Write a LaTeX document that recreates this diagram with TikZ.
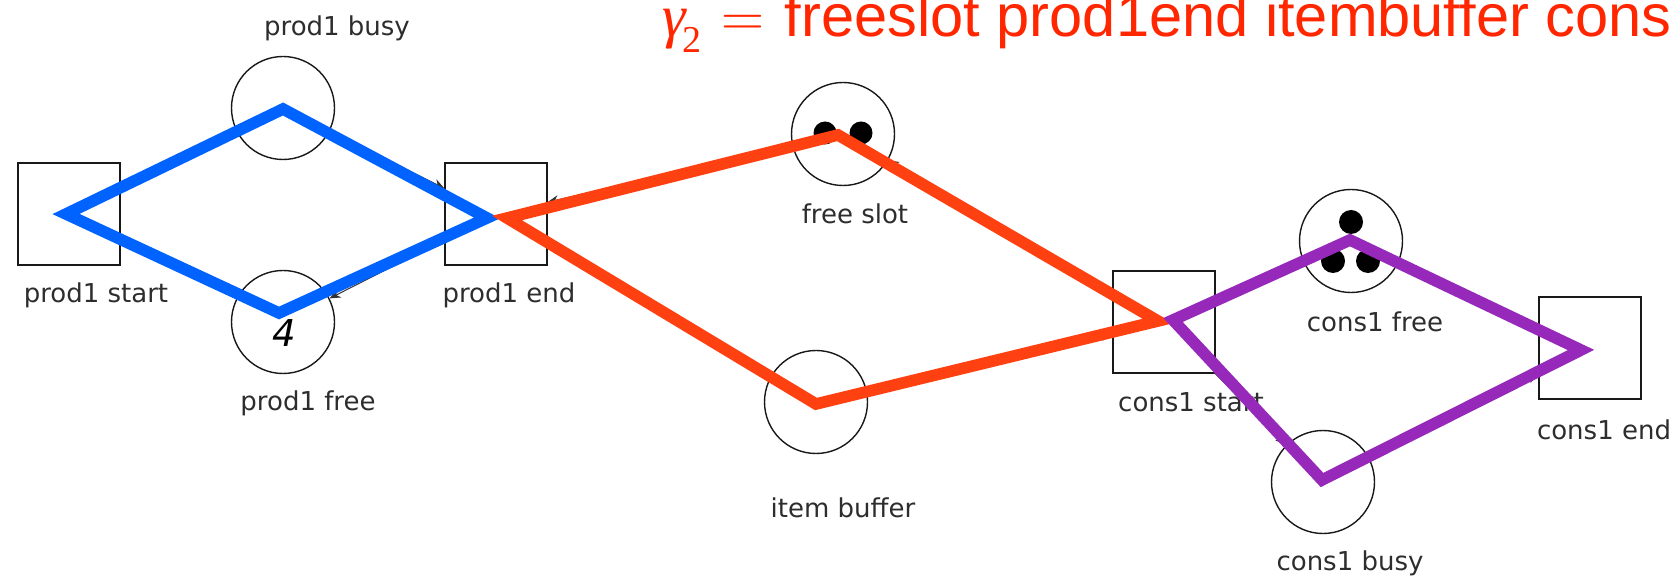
\RequirePackage{fix-cm}
\documentclass[tikz,border=0pt]{standalone}
\usepackage{fontspec}
\setmainfont{DejaVu Sans}
\newfontfamily\titlefont{Liberation Sans}
\newfontfamily\tserif{Liberation Serif}
\usetikzlibrary{arrows.meta}
\definecolor{cblue}{RGB}{0,98,255}
\definecolor{cred}{RGB}{255,64,17}
\definecolor{cpurple}{RGB}{150,41,185}
\definecolor{ctitle}{RGB}{255,38,0}
\definecolor{clbl}{RGB}{45,45,45}
\begin{document}
\begin{tikzpicture}[x=0.5pt,y=-0.5pt,
  place/.style={draw=black!90, line width=0.7pt, circle, minimum size=51.5pt, inner sep=0pt},
  trans/.style={draw=black!90, line width=0.7pt, rectangle, minimum size=51pt, inner sep=0pt},
  lbl/.style={font=\fontsize{13}{15}\selectfont, text=clbl, inner sep=0pt},
  arc/.style={draw=black!80, line width=0.5pt, -{Stealth[length=5.5pt,width=4.5pt]}},
  tok/.style={fill=black},
  cyc/.style={line width=5.8pt, miter limit=10, line join=miter}]
\useasboundingbox (0,0) rectangle (1673,576);
\clip (0,0) rectangle (1673,576);
% places and transitions
\node[trans] (pstart) at (69,214) {};
\node[place] (pbusy) at (283,108) {};
\node[place] (pfree) at (283,322) {};
\node[trans] (pend) at (496,214) {};
\node[place] (fslot) at (843,134) {};
\node[place] (ibuf) at (816,402) {};
\node[trans] (cstart) at (1164,322) {};
\node[place] (cfree) at (1351,241) {};
\node[place] (cbusy) at (1323,482) {};
\node[trans] (cend) at (1590,348) {};
% arcs
\draw[arc] (pstart) -- (pbusy);
\draw[arc] (pbusy) -- (pend);
\draw[arc] (pend) -- (pfree);
\draw[arc] (pfree) -- (pstart);
\draw[arc] (fslot) -- (pend);
\draw[arc] (pend) -- (ibuf);
\draw[arc] (ibuf) -- (cstart);
\draw[arc] (cstart) -- (fslot);
\draw[arc] (cstart) -- (cbusy);
\draw[arc] (cbusy) -- (cend);
\draw[arc] (cend) -- (cfree);
\draw[arc] (cfree) -- (cstart);
% tokens
\node[inner sep=0pt, font=\fontsize{18.5}{20}\selectfont\itshape] (four) at (284,333) {4};
\fill[tok] (825,133) circle (11.5);
\fill[tok] (861,133) circle (11.5);
\fill[tok] (1351,222) circle (12);
\fill[tok] (1333,261) circle (12);
\fill[tok] (1368,261) circle (12);
% labels
\node[lbl] (lpbusy) at (337,28) {prod1 busy};
\node[lbl] (lpstart) at (96,295) {prod1 start};
\node[lbl] (lpend) at (509,295) {prod1 end};
\node[lbl] (lpfree) at (308,403) {prod1 free};
\node[lbl] (lfslot) at (855,214) {free slot};
\node[lbl] (libuf) at (843,508) {item buffer};
\node[lbl] (lcstart) at (1191,402) {cons1 start};
\node[lbl] (lcfree) at (1375,322) {cons1 free};
\node[lbl] (lcend) at (1604,430) {cons1 end};
\node[lbl] (lcbusy) at (1350,563) {cons1 busy};
% title
\node[anchor=base west, inner sep=0pt, text=ctitle, font=\fontsize{29.8}{31}\titlefont] (title) at (662,37)
  {{\tserif\itshape γ}\kern-1.5pt\raisebox{-8pt}{\tserif\fontsize{19}{19}\selectfont 2}\kern10pt$=$\kern10pt freeslot prod1end itembuffer cons1start};
% cycles
\draw[cyc, draw=cblue] (66,214) -- (283,109) -- (487,218) -- (279,313) -- cycle;
\draw[cyc, draw=cred] (507,218) -- (838,135) -- (1158,321) -- (816,404) -- cycle;
\draw[cyc, draw=cpurple] (1173,320) -- (1350,240) -- (1581,350) -- (1322,480) -- cycle;
\end{tikzpicture}
\end{document}
